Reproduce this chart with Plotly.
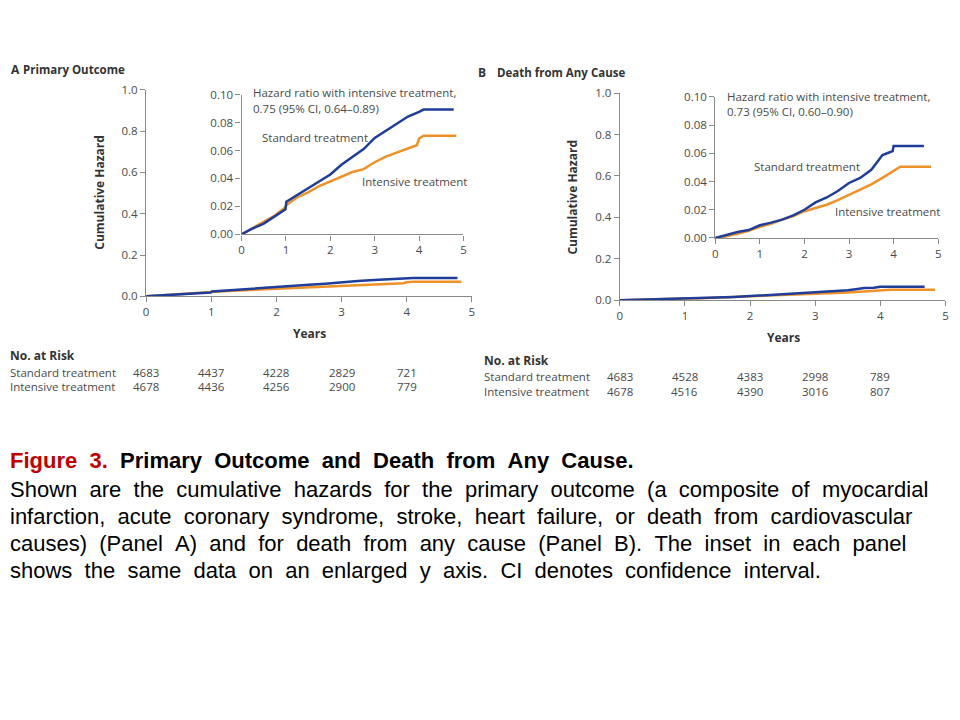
import plotly.graph_objects as go

# ---------------- data ----------------
years_ticks = [0, 1, 2, 3, 4, 5]

# Panel A: primary outcome
a_std_x = [0, 0.25, 0.5, 0.75, 0.99, 1.01, 1.25, 1.5, 1.75, 2.0, 2.25, 2.5, 2.75, 3.0, 3.25, 3.5, 3.75, 4.0, 4.1, 4.78]
a_std_y = [0, 0.0042, 0.0077, 0.0128, 0.018, 0.0234, 0.028, 0.033, 0.0376, 0.0428, 0.0498, 0.0556, 0.061, 0.069, 0.0743, 0.0794, 0.0843, 0.0876, 0.0893, 0.0893]
a_int_x = [0, 0.25, 0.5, 0.75, 0.99, 1.01, 1.25, 1.5, 1.75, 2.0, 2.25, 2.5, 2.75, 3.0, 3.25, 3.5, 3.75, 3.95, 4.0, 4.1, 4.84]
a_int_y = [0, 0.0045, 0.009, 0.0135, 0.0194, 0.021, 0.0264, 0.030, 0.0346, 0.038, 0.0416, 0.0446, 0.0467, 0.0516, 0.0556, 0.0584, 0.0614, 0.0638, 0.0685, 0.0706, 0.0706]

# Panel B: death from any cause
b_std_x = [0, 0.25, 0.5, 0.75, 1.0, 1.25, 1.5, 1.75, 2.0, 2.25, 2.5, 2.75, 3.0, 3.25, 3.5, 3.65, 3.75, 3.9, 3.98, 4.0, 4.68]
b_std_y = [0, 0.0021, 0.0042, 0.0056, 0.009, 0.0109, 0.013, 0.016, 0.020, 0.0252, 0.0287, 0.0333, 0.039, 0.0426, 0.0484, 0.0546, 0.0588, 0.0606, 0.0616, 0.0653, 0.0653]
b_int_x = [0, 0.25, 0.5, 0.75, 1.0, 1.25, 1.5, 1.75, 2.0, 2.25, 2.5, 2.75, 3.0, 3.25, 3.5, 3.75, 4.0, 4.15, 4.84]
b_int_y = [0, 0.0012, 0.003, 0.005, 0.0079, 0.010, 0.013, 0.0155, 0.019, 0.0213, 0.0236, 0.0268, 0.0306, 0.034, 0.038, 0.0426, 0.0472, 0.0505, 0.0505]

risk_years = [0, 1, 2, 3, 4]
a_risk_std = [4683, 4437, 4228, 2829, 721]
a_risk_int = [4678, 4436, 4256, 2900, 779]
b_risk_std = [4683, 4528, 4383, 2998, 789]
b_risk_int = [4678, 4516, 4390, 3016, 807]

main_yticks = [0.0, 0.2, 0.4, 0.6, 0.8, 1.0]
inset_yticks = [0.00, 0.02, 0.04, 0.06, 0.08, 0.10]

BLUE = "#1f3d99"
ORANGE = "#ee9128"
AXC = "#8a8a8a"
TXT = "#4a4a4a"
FONT = "Open Sans"

W, H = 960, 720
OFF = 8  # page body margin
def px(x):
    return (x - OFF) / W
def py(y):
    return 1 - (y - OFF) / H

fig = go.Figure()

def add_series(xa, ya, xs, ys, color):
    fig.add_trace(go.Scatter(x=xs, y=ys, xaxis=xa, yaxis=ya, mode="lines",
                             line=dict(color=color, width=2.5), showlegend=False,
                             hoverinfo="skip"))

for xa, ya in [("x", "y"), ("x2", "y2")]:
    add_series(xa, ya, a_int_x, a_int_y, ORANGE)
    add_series(xa, ya, a_std_x, a_std_y, BLUE)
for xa, ya in [("x3", "y3"), ("x4", "y4")]:
    add_series(xa, ya, b_int_x, b_int_y, ORANGE)
    add_series(xa, ya, b_std_x, b_std_y, BLUE)

def xax(domain, anchor, size):
    return dict(domain=domain, anchor=anchor, range=[0, 5], tickvals=years_ticks,
                showline=True, linecolor=AXC, linewidth=1.3, ticks="outside",
                ticklen=5, tickcolor=AXC, tickwidth=1.2, showgrid=False, zeroline=False,
                tickfont=dict(family=FONT, size=size, color=TXT), fixedrange=True)

def yax(domain, anchor, vals, fmt, size):
    return dict(domain=domain, anchor=anchor, range=[0, vals[-1]], tickvals=vals,
                ticktext=[fmt.format(v) for v in vals],
                showline=True, linecolor=AXC, linewidth=1.3, ticks="outside",
                ticklen=5, tickcolor=AXC, tickwidth=1.2, showgrid=False, zeroline=False,
                tickfont=dict(family=FONT, size=size, color=TXT), fixedrange=True)

fig.update_layout(
    width=W, height=H, margin=dict(l=0, r=0, t=0, b=0),
    paper_bgcolor="white", plot_bgcolor="rgba(0,0,0,0)",
    xaxis=xax([px(144), px(471.7)], "y", 11.5),
    yaxis=yax([py(294.3), py(83.3)], "x", main_yticks, "{:.1f}", 11.5),
    xaxis2=xax([px(240), px(463.3)], "y2", 11.5),
    yaxis2=yax([py(231), py(88.3)], "x2", inset_yticks, "{:.2f}", 11.5),
    xaxis3=xax([px(620.7), px(948.3)], "y3", 11.5),
    yaxis3=yax([py(298.3), py(86.7)], "x3", main_yticks, "{:.1f}", 11.5),
    xaxis4=xax([px(716.7), px(941)], "y4", 11.5),
    yaxis4=yax([py(234.7), py(90.7)], "x4", inset_yticks, "{:.2f}", 11.5),
)

ann = []
def text(x, y, s, size=11.5, color=TXT, xanchor="left", bold=False, angle=0, family=FONT,
         xref="paper", xshift=None):
    if xshift is None:
        xshift = -5 if xanchor == "left" else 0
    ann.append(dict(x=x if xref != "paper" else px(x), y=py(y), xref=xref, yref="paper",
                    text=f"<b>{s}</b>" if bold else s, showarrow=False,
                    xanchor=xanchor, yanchor="middle", textangle=angle,
                    xshift=xshift,
                    font=dict(family=family, size=size, color=color)))

# Panel A texts
text(8, 63, "A", size=12, bold=True, color="#333", xshift=-2)
text(23, 63, "Primary Outcome", size=11.5, bold=True, color="#333")
text(97, 188, "Cumulative Hazard", size=12, bold=True, color="#333", xanchor="center", angle=-90)
text(308, 332, "Years", size=12, bold=True, color="#333", xanchor="center")
text(255, 86, "Hazard ratio with intensive treatment,", size=11.5)
text(255, 102, "0.75 (95% CI, 0.64\u20130.89)", size=11.5)
text(264, 132, "Standard treatment", size=11.5)
text(364, 177, "Intensive treatment", size=11.5)
text(10, 355, "No. at Risk", size=12, bold=True, color="#333")
text(10, 372, "Standard treatment", size=11.5)
text(10, 386.5, "Intensive treatment", size=11.5)
for yr, s, i in zip(risk_years, a_risk_std, a_risk_int):
    text(yr, 372, str(s), size=11.5, xanchor="center", xref="x")
    text(yr, 386.5, str(i), size=11.5, xanchor="center", xref="x")

# Panel B texts
text(481, 66, "B", size=12, bold=True, color="#333")
text(500, 66, "Death from Any Cause", size=11.5, bold=True, color="#333")
text(573, 193, "Cumulative Hazard", size=12, bold=True, color="#333", xanchor="center", angle=-90)
text(785, 336, "Years", size=12, bold=True, color="#333", xanchor="center")
text(732, 90.7, "Hazard ratio with intensive treatment,", size=11.5)
text(732, 105.7, "0.73 (95% CI, 0.60\u20130.90)", size=11.5)
text(759, 162, "Standard treatment", size=11.5)
text(840, 208, "Intensive treatment", size=11.5)
text(487, 360, "No. at Risk", size=12, bold=True, color="#333")
text(487, 376.5, "Standard treatment", size=11.5)
text(487, 391, "Intensive treatment", size=11.5)
for yr, s, i in zip(risk_years, b_risk_std, b_risk_int):
    text(yr, 376.5, str(s), size=11.5, xanchor="center", xref="x3")
    text(yr, 391, str(i), size=11.5, xanchor="center", xref="x3")

# Caption (wide word spacing as in the slide)
CAP = "Liberation Sans"
SP = " \u00a0"
def wide(s):
    return s.replace(" ", SP)
title_html = ("<span style='color:#c00000'><b>" + wide("Figure 3.") + "</b></span>" + SP +
              "<b>" + wide("Primary Outcome and Death from Any Cause.") + "</b>")
text(10, 462, title_html, size=22, color="black", family=CAP)
cap_lines = [
    "Shown are the cumulative hazards for the primary outcome (a composite of myocardial",
    "infarction, acute coronary syndrome, stroke, heart failure, or death from cardiovascular",
    "causes) (Panel A) and for death from any cause (Panel B). The inset in each panel",
    "shows the same data on an enlarged y axis. CI denotes confidence interval.",
]
for k, line in enumerate(cap_lines):
    text(10, 491.5 + k * 27.5, wide(line), size=22, color="black", family=CAP)

fig.update_layout(annotations=ann)

fig.add_shape(type="line", xref="paper", yref="paper", x0=px(958.5), x1=px(958.5),
              y0=py(55), y1=py(402), line=dict(color="#e4e4e4", width=1))

fig.write_html("out.html")
